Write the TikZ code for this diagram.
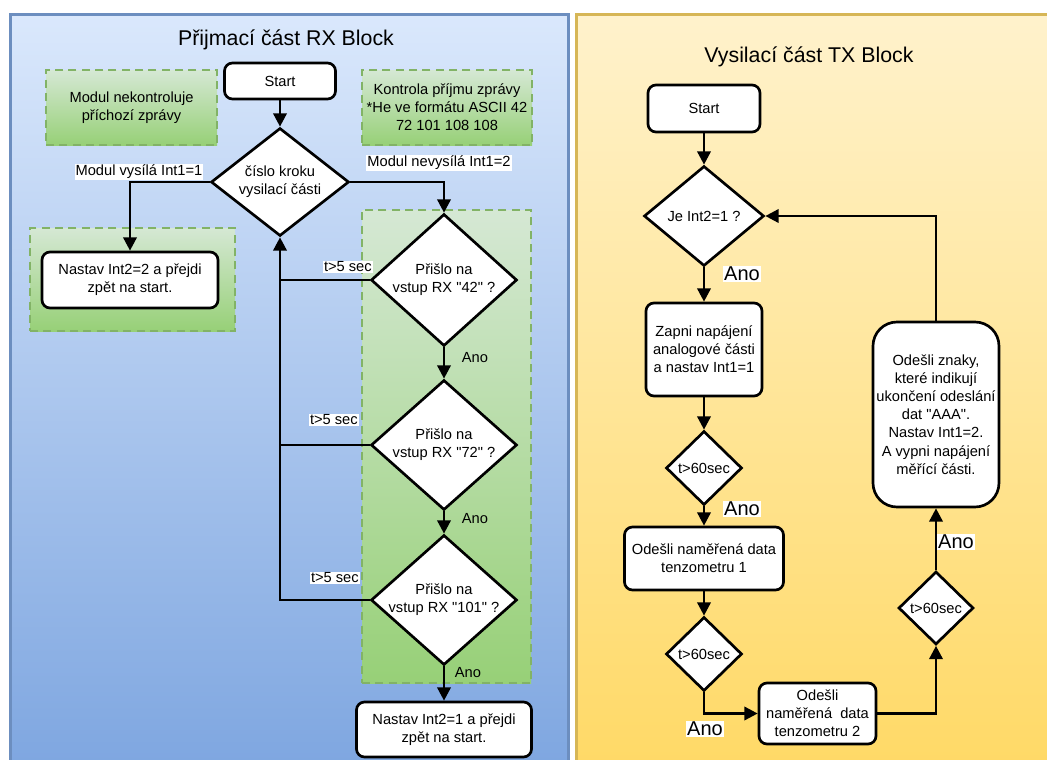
\documentclass[tikz,border=0pt]{standalone}
\usepackage{fontspec}
\setmainfont{Liberation Sans}[Ligatures=TeXOff]
\usetikzlibrary{shapes.geometric,arrows.meta}
\definecolor{rxtop}{HTML}{DAE8FC}
\definecolor{rxbot}{HTML}{7EA6E0}
\definecolor{rxline}{HTML}{6C8EBF}
\definecolor{txtop}{HTML}{FFF2CC}
\definecolor{txbot}{HTML}{FFD966}
\definecolor{txline}{HTML}{D6B656}
\definecolor{grtop}{HTML}{D5E8D4}
\definecolor{grbot}{HTML}{97D077}
\definecolor{grline}{HTML}{82B366}

\begin{document}
\begin{tikzpicture}[x=0.75pt,y=0.75pt,yscale=-1,xscale=1,
  txt/.style={font=\fontsize{11}{13.6}\selectfont, inner sep=1pt},
  ttl/.style={font=\fontsize{16}{19}\selectfont},
  tag/.style={txt, fill=white, inner sep=0.75pt},
  bigtag/.style={font=\fontsize{15}{18}\selectfont, fill=white, inner sep=0.75pt},
  proc/.style={txt, draw=black, line width=2pt, fill=white, rounded corners=6pt, align=center},
  decis/.style={txt, diamond, draw=black, line width=2pt, fill=white, inner sep=-4pt, shape aspect=1.2, align=center},
  zone/.style={txt, draw=grline, line width=1.5pt, dash pattern=on 6pt off 4pt, top color=grtop, bottom color=grbot, align=center},
  flow/.style={line width=2pt, -{Triangle[width=10pt,length=10pt]}},
  wire/.style={line width=2pt}]
\useasboundingbox (0,0) rectangle (1047,760);

% Panel
\draw[rxline, line width=2.25pt, top color=rxtop, bottom color=rxbot] (10,14) rectangle (568,770);
% Panel
\draw[txline, line width=2.25pt, top color=txtop, bottom color=txbot] (576,14) rectangle (1060,770);

% Text Node
\node[ttl] (rxttl) at (286,40) {Přijmací část RX Block};
% Text Node
\node[zone, minimum width=128.25pt, minimum height=56.25pt] (gA) at (131.5,107.5) {Modul nekontroluje\\příchozí zprávy};
% Text Node
\node[zone, minimum width=127.5pt, minimum height=56.25pt] (gC) at (447,107.5) {Kontrola příjmu zprávy\\*He ve formátu ASCII 42\\72 101 108 108};
% Text Node
\node[zone, minimum width=153.75pt, minimum height=77.25pt] (gB) at (132.5,279.5) {};
% Text Node
\node[zone, minimum width=126.75pt, minimum height=354.75pt] (gD) at (446.5,446.5) {};
% Text Node
\node[proc, minimum width=83.25pt, minimum height=27pt] (startL) at (280,81) {Start};
% Text Node
\node[decis, minimum width=103.5pt, minimum height=81pt] (dA) at (280,182) {číslo kroku\\vysilací části};
% Text Node
\node[proc, minimum width=132pt, minimum height=42pt] (setB) at (130,280) {Nastav Int2=2 a přejdi\\zpět na start.};
% Text Node
\node[decis, minimum width=109.5pt, minimum height=99pt] (d42) at (444,280) {Přišlo na\\vstup RX "42" ?};
% Text Node
\node[decis, minimum width=109.5pt, minimum height=97.5pt] (d72) at (444,445) {Přišlo na\\vstup RX "72" ?};
% Text Node
\node[decis, minimum width=109.5pt, minimum height=97.5pt] (d101) at (444,600) {Přišlo na\\vstup RX "101" ?};
% Text Node
\node[proc, minimum width=131.25pt, minimum height=41.25pt] (setA) at (444,729.5) {Nastav Int2=1 a přejdi\\zpět na start.};

% Connection
\draw[flow] (startL) -- (dA);
% Connection
\draw[flow] (dA.west) -| (setB.north);
% Connection
\draw[flow] (dA.east) -| (d42.north);
% Connection
\draw[flow] (d42) -- (d72);
% Connection
\draw[flow] (d72) -- (d101);
% Connection
\draw[flow] (d101) -- (setA);
% Connection
\draw[wire] (d42.west) -- (d42.west -| dA.south);
% Connection
\draw[wire] (d72.west) -- (d72.west -| dA.south);
% Connection
\draw[flow] (d101.west) -| (dA.south);

% Text Node
\node[tag] (lblA) at (139,172) {Modul vysílá Int1=1};
% Text Node
\node[tag] (lblB) at (439,163) {Modul nevysílá Int1=2};
% Text Node
\node[tag, anchor=east] (to42) at (373,267) {t>5 sec};
% Text Node
\node[tag, anchor=east] (to72) at (359,420) {t>5 sec};
% Text Node
\node[tag, anchor=east] (to101) at (360,578) {t>5 sec};
% Text Node
\node[txt] (ok42) at (475,358) {Ano};
% Text Node
\node[txt] (ok72) at (475,519) {Ano};
% Text Node
\node[txt] (ok101) at (468,673) {Ano};

% Text Node
\node[ttl] (txttl) at (809,57) {Vysilací část TX Block};
% Text Node
\node[proc, minimum width=84pt, minimum height=35.25pt] (startR) at (704,108.5) {Start};
% Text Node
\node[decis, minimum width=90pt, minimum height=75pt] (dJe) at (704,216) {Je Int2=1 ?};
% Text Node
\node[proc, minimum width=87pt, minimum height=69.75pt] (pwr) at (704,349.5) {Zapni napájení\\analogové části\\a nastav Int1=1};
% Text Node
\node[decis, minimum width=57pt, minimum height=55.5pt] (w1) at (704,468) {t>60sec};
% Text Node
\node[proc, minimum width=119.25pt, minimum height=47.25pt] (snd1) at (704,558.5) {Odešli naměřená data\\tenzometru 1};
% Text Node
\node[decis, minimum width=57pt, minimum height=55.5pt] (w2) at (704,654) {t>60sec};
% Text Node
\node[proc, minimum width=87.75pt, minimum height=45.75pt] (snd2) at (817.5,713.5) {Odešli\\naměřená~ data\\tenzometru 2};
% Text Node
\node[decis, minimum width=56.25pt, minimum height=54.75pt] (w3) at (936,608) {t>60sec};
% Text Node
\node[proc, rounded corners=18pt, minimum width=94.5pt, minimum height=138.75pt] (fin) at (936,414.5) {Odešli znaky,\\které indikují\\ukončení odeslání\\dat "AAA".\\Nastav Int1=2.\\A vypni napájení\\měřící části.};

% Connection
\draw[flow] (startR) -- (dJe);
% Connection
\draw[flow] (dJe) -- (pwr);
% Connection
\draw[flow] (pwr) -- (w1);
% Connection
\draw[flow] (w1) -- (snd1);
% Connection
\draw[flow] (snd1) -- (w2);
% Connection
\draw[flow] (w2.south) |- (snd2.west);
% Connection
\draw[flow] (snd2.east) -| (w3.south);
% Connection
\draw[flow] (w3) -- (fin);
% Connection
\draw[flow] (fin.north) |- (dJe.east);

% Text Node
\node[bigtag] (yes1) at (742,274) {Ano};
% Text Node
\node[bigtag] (yes2) at (742,509) {Ano};
% Text Node
\node[bigtag] (yes3) at (705,729) {Ano};
% Text Node
\node[bigtag] (yes4) at (956,542) {Ano};

\end{tikzpicture}
\end{document}
